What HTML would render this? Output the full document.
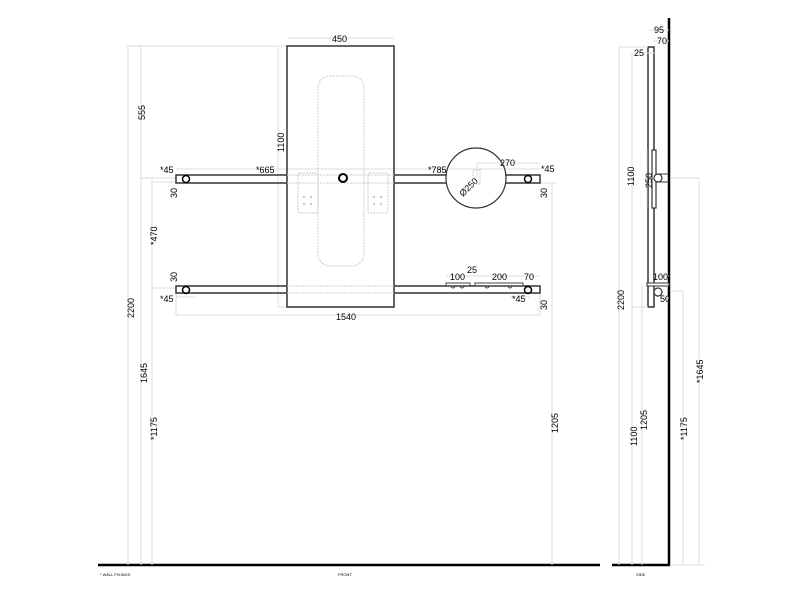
<!DOCTYPE html>
<html><head><meta charset="utf-8"><style>
html,body{margin:0;padding:0;background:#fff;}
svg{display:block}
text{font-family:"Liberation Sans",sans-serif;font-size:9px;fill:#000}
.d{stroke:#ddd;stroke-width:1;fill:none}
.dd{stroke:#ccc;stroke-width:1;fill:none;stroke-dasharray:2,1}
.k{stroke:#333;stroke-width:1.5;fill:none}
</style></head><body>
<svg width="800" height="600" viewBox="0 0 800 600">
<!-- floor lines -->
<line x1="98" y1="565" x2="600" y2="565" stroke="#000" stroke-width="2.5"/>
<line x1="612" y1="565" x2="670" y2="565" stroke="#000" stroke-width="2.5"/>
<line x1="669" y1="18" x2="669" y2="566" stroke="#000" stroke-width="2.5"/>
<line x1="670" y1="565" x2="705" y2="565" class="d"/>
<text x="100" y="576" style="font-size:4px">* WALL FIXINGS</text>
<text x="338" y="576" style="font-size:4px">FRONT</text>
<text x="636" y="576" style="font-size:4px">SIDE</text>

<!-- front dimension lines -->
<line x1="128" y1="45" x2="128" y2="565" class="d"/>
<line x1="141" y1="45" x2="141" y2="565" class="d"/>
<line x1="152" y1="179" x2="152" y2="565" class="d"/>
<line x1="128" y1="46" x2="287" y2="46" class="d"/>
<line x1="141" y1="178" x2="176" y2="178" class="d"/>
<line x1="152" y1="182" x2="176" y2="182" class="d"/>
<line x1="152" y1="288" x2="176" y2="288" class="d"/>
<line x1="278" y1="47" x2="278" y2="307" class="d"/>
<line x1="278" y1="307" x2="287" y2="307" class="d"/>
<line x1="288" y1="38" x2="394" y2="38" class="d"/>
<line x1="176" y1="169" x2="540" y2="169" class="d"/>
<line x1="176" y1="315" x2="540" y2="315" class="d"/>
<line x1="552" y1="183" x2="552" y2="565" class="d"/>
<line x1="540" y1="183" x2="556" y2="183" class="d"/>
<line x1="176" y1="297" x2="195" y2="297" class="d"/>
<line x1="510" y1="297" x2="530" y2="297" class="d"/>
<line x1="477" y1="163" x2="540" y2="163" class="d"/>
<line x1="477" y1="163" x2="477" y2="178" class="d"/>
<line x1="446" y1="276" x2="540" y2="276" class="d"/>
<line x1="176" y1="290" x2="176" y2="315" class="d"/>
<line x1="540" y1="290" x2="540" y2="315" class="d"/>
<text transform="translate(145,120) rotate(-90)">555</text>
<text transform="translate(134,318) rotate(-90)">2200</text>
<text transform="translate(147,383) rotate(-90)">1645</text>
<text transform="translate(157,245) rotate(-90)">*470</text>
<text transform="translate(157,440) rotate(-90)">*1175</text>
<text transform="translate(284,152) rotate(-90)">1100</text>
<text transform="translate(558,433) rotate(-90)">1205</text>
<text transform="translate(177,198) rotate(-90)">30</text>
<text transform="translate(177,282) rotate(-90)">30</text>
<text transform="translate(547,198) rotate(-90)">30</text>
<text transform="translate(547,310) rotate(-90)">30</text>
<text x="332" y="42">450</text>
<text x="336" y="320">1540</text>
<text x="160" y="173">*45</text>
<text x="160" y="302">*45</text>
<text x="256" y="173">*665</text>
<text x="428" y="173">*785</text>
<text x="500" y="166">270</text>
<text x="541" y="172">*45</text>
<text x="512" y="302">*45</text>
<text x="450" y="280">100</text>
<text x="467" y="273">25</text>
<text x="492" y="280">200</text>
<text x="524" y="280">70</text>
<text transform="translate(463,197) rotate(-45)">Ø250</text>

<!-- panel -->
<rect x="287" y="46" width="107" height="261" class="k"/>
<rect x="318" y="76" width="46" height="190" rx="12" class="dd"/>
<rect x="298" y="173" width="20" height="40" rx="2" class="dd"/>
<rect x="368" y="173" width="20" height="40" rx="2" class="dd"/>
<g fill="#ccc"><circle cx="304" cy="197" r="1.2"/><circle cx="311" cy="197" r="1.2"/><circle cx="304" cy="204" r="1.2"/><circle cx="311" cy="204" r="1.2"/>
<circle cx="374" cy="197" r="1.2"/><circle cx="381" cy="197" r="1.2"/><circle cx="374" cy="204" r="1.2"/><circle cx="381" cy="204" r="1.2"/></g>
<line x1="287" y1="175" x2="394" y2="175" class="dd"/>
<line x1="287" y1="183" x2="394" y2="183" class="dd"/>
<line x1="287" y1="286" x2="394" y2="286" class="dd"/>
<line x1="287" y1="293" x2="394" y2="293" class="dd"/>

<!-- bars -->
<path d="M287 175 H176 V183 H287 M394 175 H446 M394 183 H446 M505 175 H540 V183 H505" class="k"/>
<path d="M287 286 H176 V293 H287 M394 286 H540 V293 H394" class="k"/>
<circle cx="186" cy="179" r="3.5" fill="none" stroke="#000" stroke-width="1.5"/>
<circle cx="186" cy="290" r="3.5" fill="none" stroke="#000" stroke-width="1.5"/>
<circle cx="528" cy="179" r="3.5" fill="none" stroke="#000" stroke-width="1.5"/>
<circle cx="528" cy="290" r="3.5" fill="none" stroke="#000" stroke-width="1.5"/>
<circle cx="343" cy="178" r="4" fill="none" stroke="#000" stroke-width="2"/>
<!-- mirror -->
<circle cx="476" cy="178" r="30" fill="none" stroke="#333" stroke-width="1.2"/>
<rect x="473" y="170" width="7" height="14" class="dd"/>
<!-- shelves -->
<rect x="446" y="283" width="24" height="3" fill="none" stroke="#444"/>
<rect x="475" y="283" width="48" height="3" fill="none" stroke="#444"/>
<g fill="none" stroke="#444"><path d="M451 286 a2 2 0 0 0 4 0 M460 286 a2 2 0 0 0 4 0 M485 286 a2 2 0 0 0 4 0 M508 286 a2 2 0 0 0 4 0"/></g>

<!-- side view -->
<rect x="648" y="47" width="6" height="260" class="k"/>
<rect x="652" y="150" width="4" height="58" fill="#fff" stroke="#333" stroke-width="1.2"/>
<circle cx="658" cy="178" r="4" fill="#fff" stroke="#333" stroke-width="1.2"/>
<line x1="658" y1="174" x2="669" y2="174" stroke="#333"/>
<line x1="658" y1="182" x2="669" y2="182" stroke="#333"/>
<rect x="647" y="283" width="22" height="3" fill="#fff" stroke="#333"/>
<circle cx="658" cy="292" r="4" fill="#fff" stroke="#333" stroke-width="1.2"/>
<g class="d">
<line x1="619" y1="47" x2="619" y2="565"/>
<line x1="619" y1="47" x2="648" y2="47"/>
<line x1="632" y1="53" x2="632" y2="565"/>
<line x1="632" y1="307" x2="648" y2="307"/>
<line x1="642" y1="285" x2="642" y2="565"/>
<line x1="670" y1="178" x2="699" y2="178"/>
<line x1="699" y1="178" x2="699" y2="565"/>
<line x1="670" y1="291" x2="683" y2="291"/>
<line x1="683" y1="291" x2="683" y2="565"/>
<line x1="647" y1="150" x2="647" y2="208"/>
<line x1="649" y1="30" x2="669" y2="30"/>
<line x1="654" y1="41" x2="669" y2="41"/>
<line x1="635" y1="53" x2="656" y2="53"/>
<line x1="654" y1="276" x2="669" y2="276"/>
<line x1="660" y1="298" x2="669" y2="298"/>
</g>
<text x="654" y="33">95</text>
<text x="657" y="44">70</text>
<text x="634" y="56">25</text>
<text x="653" y="280">100</text>
<text x="660" y="302">50</text>
<text transform="translate(634,186) rotate(-90)">1100</text>
<text transform="translate(652,188) rotate(-90)">250</text>
<text transform="translate(624,310) rotate(-90)">2200</text>
<text transform="translate(637,446) rotate(-90)">1100</text>
<text transform="translate(647,430) rotate(-90)">1205</text>
<text transform="translate(687,440) rotate(-90)">*1175</text>
<text transform="translate(703,383) rotate(-90)">*1645</text>
</svg>
</body></html>
